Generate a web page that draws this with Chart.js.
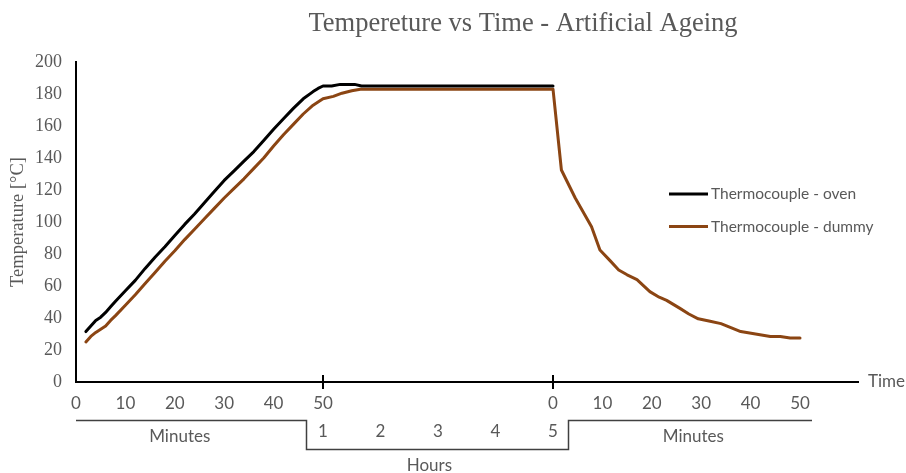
<!DOCTYPE html>
<html>
<head>
<meta charset="utf-8">
<title>Temperature vs Time</title>
<script src="https://cdn.jsdelivr.net/npm/chart.js@4.4.1/dist/chart.umd.min.js"></script>
<style>
  html, body { margin: 0; padding: 0; background: #fff; }
  canvas { display: block; }
</style>
</head>
<body>
<canvas id="ageingChart" width="906" height="473"></canvas>
<script>
// Heating ramp, minutes from start
const heatMinutes = [2, 3, 4, 5, 6, 7, 8, 10, 12, 14, 16, 18, 20, 22, 24, 26, 28, 30, 32, 34, 36, 38, 40, 42, 44, 46, 48, 49, 50];
const ovenHeat    = [31.5, 35, 38.5, 40.5, 43.5, 47, 50.5, 57, 63.5, 71, 78, 84.5, 91.5, 98.5, 105, 112, 119, 126, 132, 138, 144, 151, 158, 164.5, 171, 177, 181.5, 183.5, 185];
const dummyHeat   = [25, 28.5, 31, 33, 35, 38.5, 41.5, 48, 54.5, 61.5, 68.5, 75.5, 82, 89, 95.5, 102, 108.5, 115, 121, 127, 133.5, 140, 147.5, 154.5, 161, 167.5, 173, 175, 177];

// Hold at temperature, hours
const ovenHoldHours  = [1, 1.15, 1.3, 1.55, 1.67, 5];
const ovenHold       = [185, 185, 186, 186, 185, 185];
const dummyHoldHours = [1, 1.18, 1.33, 1.5, 1.65, 5];
const dummyHold      = [177, 178.5, 180.5, 182, 183, 183];

// Cooling after switch-off, minutes (dummy only)
const coolMinutes = [0, 1.7, 4.5, 7.8, 9.5, 11.5, 13.3, 15, 17, 19.6, 21.5, 23, 25.7, 27.5, 29.4, 31.8, 34, 36, 38, 41, 44, 46, 48, 50];
const dummyCool   = [183, 132.5, 115, 97, 82.5, 76, 70, 67, 64, 56.5, 53, 51, 46, 42.5, 39.5, 38, 36.5, 34, 31.5, 30, 28.5, 28.5, 27.5, 27.5];

// Tick labels
const minuteTicks = [0, 10, 20, 30, 40, 50];
const hourTicks = [1, 2, 3, 4, 5];
const tempTicks = { min: 0, max: 200, step: 20 };

const seriesNames = ['Thermocouple - oven', 'Thermocouple - dummy'];
const seriesColors = ['#000000', '#8B4513'];
const chartTitle = 'Tempereture vs Time - Artificial Ageing';

// The x axis is in minutes, with the hold section squeezed so one hour
// takes HOUR_SPAN units.
const HOUR_SPAN = 11.64;
const HOLD_START = 50;
const COOL_START = HOLD_START + 4 * HOUR_SPAN;
const X_MAX = 158.3;

const heatX = m => m;
const holdX = h => HOLD_START + (h - 1) * HOUR_SPAN;
const coolX = m => COOL_START + m;

function toPoints(times, temps, toX) {
  return times.map((t, i) => ({ x: toX(t), y: temps[i] }));
}

const ovenData = toPoints(heatMinutes, ovenHeat, heatX)
  .concat(toPoints(ovenHoldHours, ovenHold, holdX));
const dummyData = toPoints(heatMinutes, dummyHeat, heatX)
  .concat(toPoints(dummyHoldHours, dummyHold, holdX))
  .concat(toPoints(coolMinutes, dummyCool, coolX));

const minuteTickValues = minuteTicks.map(heatX).concat(minuteTicks.map(coolX));
const minuteTickLabels = minuteTicks.concat(minuteTicks);

const GREY = '#595959';
const SANS = 'Lato';
const SERIF = '"Liberation Serif"';

// Title, legend, hour labels and the Minutes/Hours brackets under the axis
const decorations = {
  id: 'decorations',
  afterDraw(chart) {
    const { ctx, chartArea } = chart;
    const x = chart.scales.x;
    const px = v => x.getPixelForValue(v);
    const axisY = chartArea.bottom;

    ctx.save();
    ctx.fillStyle = GREY;
    ctx.textAlign = 'center';
    ctx.textBaseline = 'middle';

    ctx.font = '26.5px ' + SERIF;
    ctx.fillText(chartTitle, 523, 24);

    // marks where the hold section begins and ends
    ctx.strokeStyle = '#000';
    ctx.lineWidth = 2;
    [HOLD_START, COOL_START].forEach(v => {
      ctx.beginPath();
      ctx.moveTo(Math.round(px(v)), axisY - 7);
      ctx.lineTo(Math.round(px(v)), axisY + 7);
      ctx.stroke();
    });

    ctx.font = '17px ' + SANS;
    hourTicks.forEach(h => ctx.fillText(String(h), px(holdX(h)), 432));

    ctx.strokeStyle = '#404040';
    ctx.lineWidth = 1.5;
    const stepL = Math.round(px(HOLD_START)) - 16.5;
    const stepR = Math.round(px(COOL_START)) + 15.5;
    ctx.beginPath();
    ctx.moveTo(chartArea.left, 420.5);
    ctx.lineTo(stepL, 420.5);
    ctx.lineTo(stepL, 449.5);
    ctx.lineTo(stepR, 449.5);
    ctx.lineTo(stepR, 420.5);
    ctx.lineTo(px(coolX(50)) + 12, 420.5);
    ctx.stroke();

    ctx.fillText('Minutes', px(heatX(21)), 437);
    ctx.fillText('Minutes', px(coolX(28.4)), 437);
    ctx.fillText('Hours', px(holdX(2.85)), 466);

    ctx.textAlign = 'left';
    ctx.fillText('Time', chartArea.right + 10, axisY);

    // legend
    ctx.font = '15.5px ' + SANS;
    chart.data.datasets.forEach((ds, i) => {
      const y = 194 + i * 32.5;
      ctx.strokeStyle = ds.borderColor;
      ctx.lineWidth = 3;
      ctx.beginPath();
      ctx.moveTo(669, y);
      ctx.lineTo(708, y);
      ctx.stroke();
      ctx.fillStyle = GREY;
      ctx.fillText(ds.label, 711, y);
    });
    ctx.restore();
  }
};

new Chart(document.getElementById('ageingChart'), {
  type: 'line',
  data: {
    datasets: [
      { label: seriesNames[0], data: ovenData, borderColor: seriesColors[0], backgroundColor: seriesColors[0] },
      { label: seriesNames[1], data: dummyData, borderColor: seriesColors[1], backgroundColor: seriesColors[1] }
    ]
  },
  options: {
    responsive: false,
    animation: false,
    layout: { padding: { top: 62, right: 48, bottom: 0, left: 0 } },
    elements: {
      line: { borderWidth: 3, tension: 0, borderJoinStyle: 'round', borderCapStyle: 'round' },
      point: { radius: 0, hoverRadius: 0 }
    },
    scales: {
      x: {
        type: 'linear',
        min: 0,
        max: X_MAX,
        grid: { display: false, drawTicks: false },
        border: { display: true, color: '#000', width: 2 },
        afterBuildTicks: scale => {
          scale.ticks = minuteTickValues.map(v => ({ value: v }));
        },
        afterFit: scale => { scale.height = 91; },
        ticks: {
          autoSkip: false,
          maxRotation: 0,
          padding: 11,
          color: GREY,
          font: { family: SANS, size: 17 },
          callback: (value, index) => String(minuteTickLabels[index])
        }
      },
      y: {
        min: tempTicks.min,
        max: tempTicks.max,
        grid: { display: false, drawTicks: false },
        border: { display: true, color: '#000', width: 2 },
        afterFit: scale => { scale.width = 76; },
        ticks: {
          stepSize: tempTicks.step,
          padding: 14,
          color: GREY,
          font: { family: SERIF, size: 18 }
        },
        title: {
          display: true,
          text: 'Temperature [°C]',
          color: GREY,
          font: { family: SERIF, size: 18.5 },
          padding: { top: 7, bottom: 0 }
        }
      }
    },
    plugins: {
      legend: { display: false },
      tooltip: { enabled: false }
    }
  },
  plugins: [decorations]
});
</script>
</body>
</html>
